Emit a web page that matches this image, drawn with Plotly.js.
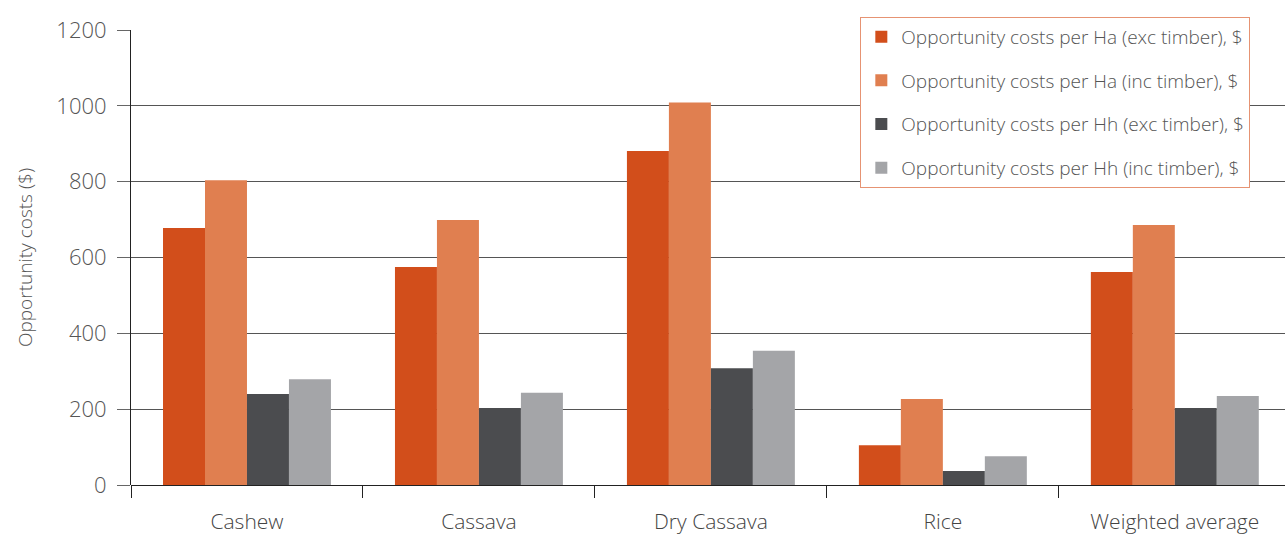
<!DOCTYPE html>
<html>
<head>
<meta charset="utf-8">
<script src="https://cdn.plot.ly/plotly-3.0.1.min.js"></script>
<style>html,body{margin:0;padding:0;background:#fff;}#chart{width:1285px;height:534px;}</style>
</head>
<body>
<div id="chart"></div>
<script>
const categories = ["Cashew", "Cassava", "Dry Cassava", "Rice", "Weighted average"];
const seriesNames = [
  "Opportunity costs per Ha (exc timber), $",
  "Opportunity costs per Ha (inc timber), $",
  "Opportunity costs per Hh (exc timber), $",
  "Opportunity costs per Hh (inc timber), $"
];
const haExc = [678, 575, 881, 105, 562];
const haInc = [804, 699, 1009, 227, 686];
const hhExc = [240, 203, 308, 37, 203];
const hhInc = [279, 243, 354, 76, 235];
const yTicks = [0, 200, 400, 600, 800, 1000, 1200];
const colors = ["#D24E1B", "#E07F50", "#4B4C4F", "#A4A5A8"];

const values = [haExc, haInc, hhExc, hhInc];
const traces = values.map((v, i) => ({
  type: "bar",
  name: seriesNames[i],
  x: categories,
  y: v,
  marker: {color: colors[i], line: {width: 0}},
  legendgroup: "g" + i,
  hoverinfo: "y"
}));

const FONT = "'Open Sans', Lato, sans-serif";

const layout = {
  width: 1285,
  height: 534,
  margin: {l: 131, r: 0, t: 30, b: 49},
  paper_bgcolor: "#fff",
  plot_bgcolor: "#fff",
  barmode: "group",
  bargap: 0.276,
  bargroupgap: 0,
  font: {family: FONT, color: "#555", weight: 300},
  xaxis: {
    type: "category",
    range: [-0.5, 4.475],
    tickson: "boundaries",
    ticks: "outside",
    ticklen: 12,
    tickcolor: "#222",
    tickwidth: 1,
    ticklabelstandoff: 22,
    showgrid: false,
    showline: false,
    tickfont: {family: FONT, size: 21, color: "#444", weight: 300},
    fixedrange: true
  },
  yaxis: {
    range: [0, 1200],
    tickvals: yTicks,
    ticktext: yTicks.map(String),
    ticks: "outside",
    ticklen: 13,
    tickcolor: "#666",
    ticklabelstandoff: 6,
    showgrid: true,
    gridcolor: "#555",
    gridwidth: 1,
    zeroline: true,
    zerolinecolor: "#222",
    zerolinewidth: 1,
    showline: true,
    linecolor: "#222",
    linewidth: 1,
    tickfont: {family: FONT, size: 22, color: "#555", weight: 300},
    title: {text: "Opportunity costs ($)", font: {family: FONT, size: 19, color: "#555", weight: 300}, standoff: 18},
    fixedrange: true
  },
  legend: {
    x: 0.632,
    y: 1.029,
    xanchor: "left",
    yanchor: "top",
    bgcolor: "#fff",
    bordercolor: "#E69373",
    borderwidth: 1,
    font: {family: FONT, size: 19, color: "#555", weight: 300},
    traceorder: "grouped",
    tracegroupgap: 16,
    itemwidth: 30
  },
  showlegend: true
};

Plotly.newPlot("chart", traces, layout, {displayModeBar: false, staticPlot: true});
</script>
</body>
</html>
